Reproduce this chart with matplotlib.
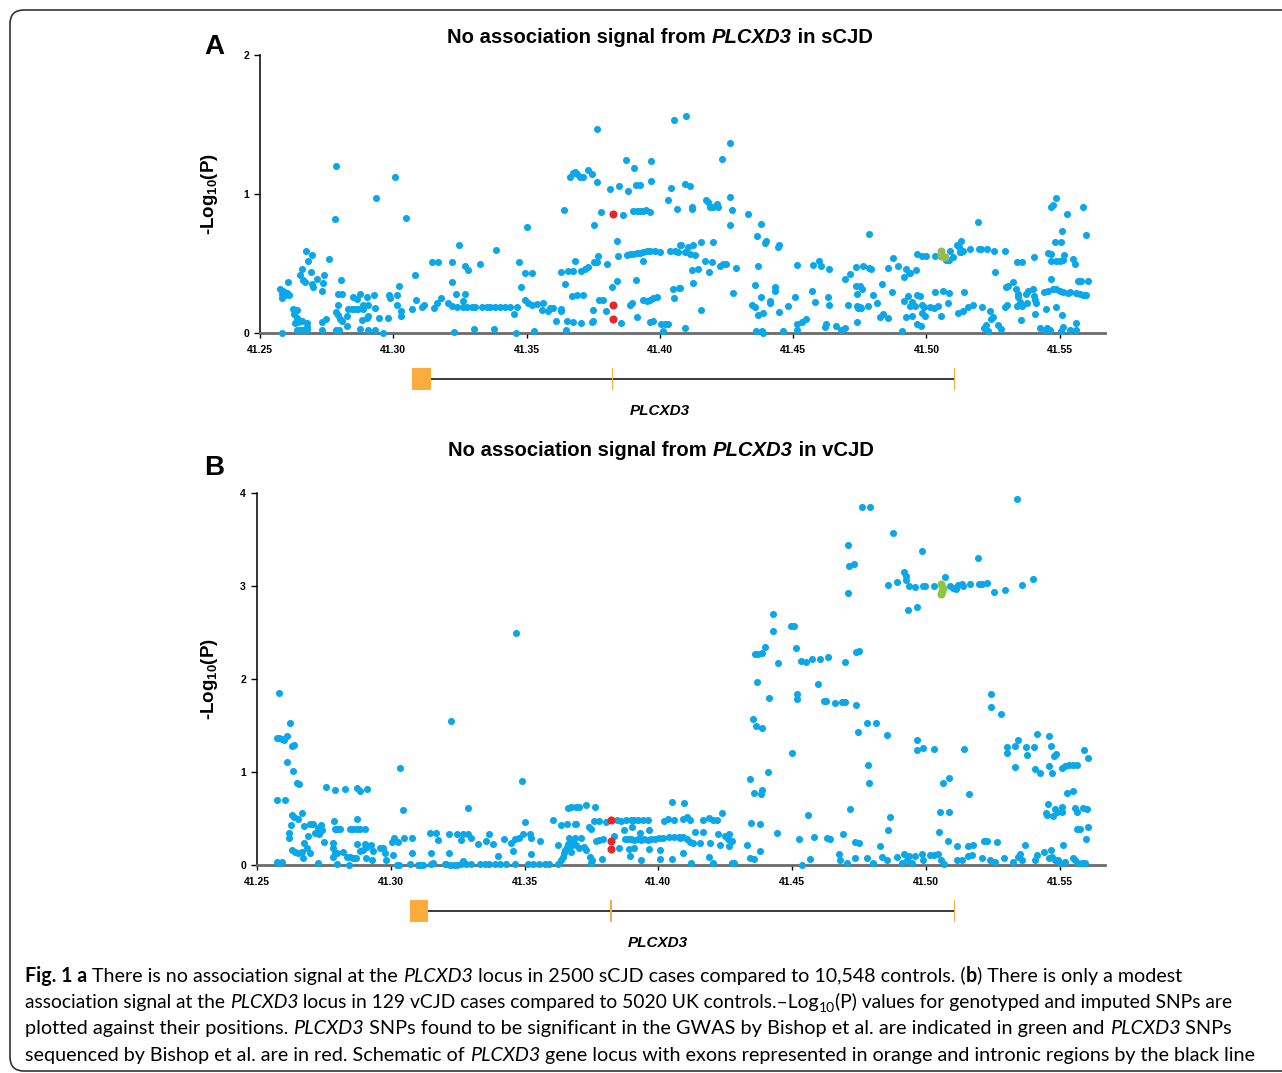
"""
Fig. 1 - no association signal from PLCXD3 in sCJD / vCJD
positions in Mb on chr, values are -log10(P) read from the published figure
"""
import matplotlib.pyplot as plt
from matplotlib.patches import FancyBboxPatch, Rectangle
from matplotlib.transforms import IdentityTransform

plt.rcParams['mathtext.fontset'] = 'custom'
plt.rcParams['mathtext.rm'] = 'Liberation Sans:bold'
plt.rcParams['mathtext.bf'] = 'Liberation Sans:bold'

# ---------------- data ----------------
x_ticks = [41.25, 41.30, 41.35, 41.40, 41.45, 41.50, 41.55]
x_labels = ['41.25', '41.30', '41.35', '41.40', '41.45', '41.50', '41.55']

# gene model of PLCXD3 (exon start, exon end) and intron line
exon_start = [41.3072, 41.3820, 41.5104]
exon_end = [41.3141, 41.3826, 41.5108]
intron = (41.3141, 41.5106)

# panel A: sCJD, (position, -log10 P)
scjd_snps = [
    (41.2785, 1.20), (41.2783, 0.82), (41.2934, 0.97), (41.3008, 1.12), (41.3048, 0.83), (41.3248, 0.63),
    (41.2575, 0.32), (41.2581, 0.28), (41.2588, 0.30), (41.2594, 0.27), (41.2581, 0.25), (41.2600, 0.29),
    (41.2610, 0.27), (41.2606, 0.37), (41.2623, 0.17), (41.2631, 0.16), (41.2638, 0.165), (41.2628, 0.14),
    (41.2638, 0.11), (41.2631, 0.07), (41.2644, 0.08), (41.2656, 0.085), (41.2675, 0.07), (41.2638, 0.02),
    (41.2650, 0.02), (41.2663, 0.02), (41.2678, 0.02), (41.2678, 0.04), (41.2584, 0.0), (41.2673, 0.59),
    (41.2696, 0.56), (41.2681, 0.52), (41.2691, 0.44), (41.2659, 0.46), (41.2650, 0.42), (41.2660, 0.38),
    (41.2669, 0.37), (41.2694, 0.35), (41.2698, 0.33), (41.2713, 0.39), (41.2740, 0.42), (41.2738, 0.36),
    (41.2733, 0.30), (41.2760, 0.53), (41.2803, 0.38), (41.2794, 0.28), (41.2806, 0.28), (41.2791, 0.20),
    (41.2785, 0.15), (41.2794, 0.13), (41.2800, 0.10), (41.2806, 0.085), (41.2825, 0.05), (41.2785, 0.02),
    (41.2798, 0.02), (41.2731, 0.02), (41.2731, 0.08), (41.2748, 0.10), (41.2825, 0.12), (41.2831, 0.17),
    (41.2844, 0.17), (41.2856, 0.17), (41.2869, 0.17), (41.2888, 0.175), (41.2850, 0.26), (41.2863, 0.245),
    (41.2875, 0.28), (41.2888, 0.20), (41.2906, 0.20), (41.2903, 0.26), (41.2928, 0.27), (41.2931, 0.18),
    (41.2881, 0.09), (41.2900, 0.11), (41.2906, 0.12), (41.2875, 0.03), (41.2906, 0.02), (41.2931, 0.02),
    (41.2960, 0.0), (41.2948, 0.105), (41.2979, 0.11), (41.2985, 0.27), (41.2988, 0.25), (41.3013, 0.27),
    (41.3014, 0.20), (41.3023, 0.34), (41.3029, 0.155), (41.3029, 0.125), (41.3071, 0.17), (41.3081, 0.42),
    (41.3085, 0.24), (41.3108, 0.185), (41.3115, 0.20), (41.3144, 0.51), (41.3169, 0.51), (41.3153, 0.18),
    (41.3163, 0.215), (41.3178, 0.25), (41.3206, 0.215), (41.3219, 0.195), (41.3238, 0.185), (41.3263, 0.185),
    (41.3219, 0.51), (41.3219, 0.37), (41.3229, 0.01), (41.3234, 0.28), (41.3269, 0.48), (41.3281, 0.45),
    (41.3269, 0.28),
    (41.3766, 1.47), (41.4054, 1.53), (41.3873, 1.245), (41.3966, 1.24), (41.3904, 1.19), (41.3663, 1.12),
    (41.3673, 1.15), (41.3681, 1.155), (41.3690, 1.145), (41.3700, 1.125), (41.3710, 1.125), (41.3731, 1.175),
    (41.3744, 1.145), (41.3763, 1.085), (41.3813, 1.035), (41.3848, 1.06), (41.3881, 1.025), (41.3910, 1.065),
    (41.3925, 1.065), (41.3965, 1.09), (41.4040, 1.045), (41.4029, 0.96), (41.4063, 0.89), (41.3639, 0.885),
    (41.3781, 0.87), (41.3863, 0.85), (41.3900, 0.875), (41.3913, 0.875), (41.3925, 0.88), (41.3938, 0.88),
    (41.3948, 0.885), (41.3963, 0.87), (41.3501, 0.76), (41.3753, 0.78), (41.3840, 0.665), (41.3385, 0.60),
    (41.3844, 0.556), (41.3875, 0.563), (41.3888, 0.568), (41.3900, 0.568), (41.3913, 0.573), (41.3925, 0.576),
    (41.3938, 0.58), (41.3950, 0.588), (41.3963, 0.592), (41.3981, 0.592), (41.4000, 0.585), (41.4038, 0.588),
    (41.4075, 0.63), (41.3769, 0.556), (41.3753, 0.508), (41.3765, 0.508), (41.3800, 0.496), (41.3935, 0.52),
    (41.3681, 0.52), (41.3656, 0.448), (41.3675, 0.448), (41.3706, 0.448), (41.3719, 0.46), (41.3731, 0.472),
    (41.3628, 0.44), (41.3645, 0.35), (41.3326, 0.50), (41.3470, 0.51), (41.3494, 0.43), (41.3521, 0.43),
    (41.3480, 0.33), (41.3275, 0.185), (41.3294, 0.185), (41.3306, 0.19), (41.3331, 0.185), (41.3350, 0.185),
    (41.3363, 0.19), (41.3381, 0.185), (41.3400, 0.19), (41.3419, 0.185), (41.3438, 0.185), (41.3463, 0.19),
    (41.3263, 0.23), (41.3453, 0.137), (41.3495, 0.24), (41.3506, 0.216), (41.3519, 0.204), (41.3538, 0.209),
    (41.3560, 0.216), (41.3558, 0.165), (41.3581, 0.16), (41.3588, 0.18), (41.3600, 0.18), (41.3629, 0.173),
    (41.3629, 0.156), (41.3609, 0.084), (41.3648, 0.024), (41.3650, 0.089), (41.3675, 0.077), (41.3704, 0.07),
    (41.3744, 0.077), (41.3750, 0.089), (41.3750, 0.168), (41.3669, 0.264), (41.3688, 0.271), (41.3713, 0.271),
    (41.3773, 0.237), (41.3788, 0.237), (41.3798, 0.156), (41.3819, 0.33), (41.3840, 0.374), (41.3855, 0.072),
    (41.3888, 0.204), (41.3894, 0.216), (41.3909, 0.384), (41.3913, 0.118), (41.3938, 0.237), (41.3950, 0.233),
    (41.3963, 0.24), (41.3975, 0.25), (41.3988, 0.257), (41.3963, 0.082), (41.3973, 0.084), (41.4006, 0.065),
    (41.4019, 0.065), (41.4031, 0.065), (41.4013, 0.017), (41.4050, 0.317), (41.4054, 0.25), (41.4075, 0.324),
    (41.3304, 0.026), (41.3376, 0.026), (41.3460, 0.0), (41.3528, 0.017),
    (41.4098, 1.56), (41.4263, 1.37), (41.4235, 1.25), (41.4094, 1.07), (41.4113, 1.06), (41.4264, 0.98),
    (41.4173, 0.96), (41.4181, 0.94), (41.4188, 0.91), (41.4200, 0.91), (41.4213, 0.93), (41.4219, 0.91),
    (41.4119, 0.91), (41.4119, 0.89), (41.4271, 0.885), (41.4331, 0.856), (41.4263, 0.777), (41.4381, 0.784),
    (41.4363, 0.70), (41.4394, 0.645), (41.4400, 0.664), (41.4444, 0.616), (41.4448, 0.635), (41.4785, 0.71),
    (41.4056, 0.588), (41.4069, 0.58), (41.4081, 0.636), (41.4094, 0.58), (41.4106, 0.616), (41.4113, 0.568),
    (41.4125, 0.636), (41.4154, 0.652), (41.4198, 0.652), (41.4131, 0.56), (41.4169, 0.516), (41.4194, 0.508),
    (41.4225, 0.48), (41.4238, 0.496), (41.4250, 0.50), (41.4284, 0.468), (41.4369, 0.48), (41.4119, 0.453),
    (41.4144, 0.458), (41.4185, 0.436), (41.4124, 0.357), (41.4275, 0.288), (41.4073, 0.324), (41.4156, 0.165),
    (41.4095, 0.036), (41.4356, 0.345), (41.4344, 0.204), (41.4356, 0.185), (41.4369, 0.132), (41.4388, 0.141),
    (41.4381, 0.261), (41.4413, 0.233), (41.4415, 0.216), (41.4431, 0.333), (41.4431, 0.30), (41.4448, 0.151),
    (41.4360, 0.017), (41.4385, 0.017), (41.4388, 0.0), (41.4463, 0.017), (41.4481, 0.197), (41.4506, 0.257),
    (41.4513, 0.49), (41.4516, 0.065), (41.4516, 0.024), (41.4535, 0.082), (41.4550, 0.10), (41.4569, 0.30),
    (41.4581, 0.225), (41.4573, 0.487), (41.4598, 0.516), (41.4604, 0.484), (41.4633, 0.463), (41.4629, 0.259),
    (41.4633, 0.20), (41.4619, 0.046), (41.4625, 0.065), (41.4660, 0.053), (41.4681, 0.024), (41.4696, 0.034),
    (41.4696, 0.386), (41.4713, 0.424), (41.4705, 0.20), (41.4735, 0.477), (41.4763, 0.48), (41.4785, 0.465),
    (41.4793, 0.46), (41.4735, 0.336), (41.4750, 0.336), (41.4758, 0.317), (41.4738, 0.28), (41.4738, 0.192),
    (41.4744, 0.18), (41.4750, 0.185), (41.4756, 0.18), (41.4740, 0.082), (41.4800, 0.271), (41.4781, 0.192),
    (41.4815, 0.216), (41.4835, 0.353), (41.4825, 0.113), (41.4838, 0.137), (41.4856, 0.468), (41.4856, 0.106),
    (41.5194, 0.80), (41.5485, 0.969), (41.5469, 0.904), (41.5475, 0.923), (41.5588, 0.91), (41.5529, 0.854),
    (41.5510, 0.736), (41.5600, 0.703), (41.5481, 0.652), (41.5504, 0.652), (41.5129, 0.664), (41.5113, 0.636),
    (41.5123, 0.616), (41.5131, 0.58), (41.5138, 0.592), (41.5125, 0.58), (41.5165, 0.604), (41.5198, 0.604),
    (41.5206, 0.604), (41.5228, 0.604), (41.5254, 0.592), (41.5294, 0.588), (41.5090, 0.588), (41.5100, 0.544),
    (41.4963, 0.566), (41.4985, 0.556), (41.4998, 0.556), (41.5031, 0.556), (41.5075, 0.525), (41.5085, 0.525),
    (41.4876, 0.54), (41.4894, 0.484), (41.4925, 0.46), (41.4935, 0.432), (41.4940, 0.434), (41.4960, 0.453),
    (41.4915, 0.40), (41.4871, 0.293), (41.5258, 0.436), (41.5338, 0.513), (41.5360, 0.508), (41.5403, 0.544),
    (41.5456, 0.573), (41.5469, 0.568), (41.5469, 0.52), (41.5485, 0.52), (41.5500, 0.52), (41.5513, 0.525),
    (41.5516, 0.564), (41.5550, 0.532), (41.5556, 0.496), (41.5469, 0.386), (41.5569, 0.372), (41.5579, 0.372),
    (41.5605, 0.376), (41.4915, 0.228), (41.4931, 0.264), (41.4946, 0.225), (41.4966, 0.271), (41.4975, 0.269),
    (41.4940, 0.192), (41.4956, 0.192), (41.4925, 0.113), (41.4946, 0.12), (41.4965, 0.065), (41.4981, 0.053),
    (41.4908, 0.017), (41.4985, 0.20), (41.4991, 0.185), (41.4984, 0.144), (41.4996, 0.12), (41.5013, 0.185),
    (41.5029, 0.18), (41.5044, 0.197), (41.5031, 0.297), (41.5063, 0.302), (41.5084, 0.285), (41.5056, 0.125),
    (41.5081, 0.216), (41.5119, 0.144), (41.5138, 0.156), (41.5156, 0.185), (41.5173, 0.199), (41.5140, 0.295),
    (41.5209, 0.187), (41.5238, 0.16), (41.5244, 0.10), (41.5248, 0.113), (41.5223, 0.06), (41.5215, 0.034),
    (41.5231, 0.012), (41.5269, 0.06), (41.5281, 0.029), (41.5294, 0.185), (41.5303, 0.204), (41.5300, 0.333),
    (41.5306, 0.34), (41.5323, 0.365), (41.5335, 0.317), (41.5344, 0.28), (41.5344, 0.257), (41.5350, 0.225),
    (41.5338, 0.192), (41.5356, 0.094), (41.5360, 0.197), (41.5375, 0.28), (41.5381, 0.30), (41.5378, 0.216),
    (41.5400, 0.317), (41.5403, 0.269), (41.5408, 0.237), (41.5413, 0.213), (41.5409, 0.137), (41.5440, 0.297),
    (41.5456, 0.305), (41.5475, 0.314), (41.5488, 0.317), (41.5500, 0.30), (41.5513, 0.297), (41.5531, 0.285),
    (41.5538, 0.297), (41.5450, 0.173), (41.5488, 0.185), (41.5510, 0.132), (41.5563, 0.285), (41.5575, 0.28),
    (41.5588, 0.276), (41.5598, 0.271), (41.5425, 0.034), (41.5446, 0.022), (41.5454, 0.034), (41.5463, 0.022),
    (41.5506, 0.017), (41.5513, 0.041), (41.5540, 0.024), (41.5560, 0.022), (41.5563, 0.072),
]
scjd_sequenced = [(41.3826, 0.856), (41.3826, 0.204), (41.3826, 0.10)]
scjd_gwas = [(41.5054, 0.592), (41.5056, 0.556), (41.5069, 0.55)]

# panel B: vCJD
vcjd_snps = [
    (41.2582, 1.85), (41.2573, 1.368), (41.2583, 1.368), (41.2592, 1.357), (41.2602, 1.34), (41.2611, 1.382),
    (41.2622, 1.53), (41.2632, 1.279), (41.2639, 1.293), (41.2611, 1.107), (41.2633, 1.014), (41.2648, 0.882),
    (41.2658, 0.871), (41.2575, 0.696), (41.2606, 0.696), (41.2573, 0.036), (41.2583, 0.018), (41.2592, 0.036),
    (41.2629, 0.543), (41.2639, 0.518), (41.2654, 0.50), (41.2667, 0.554), (41.2626, 0.429), (41.2621, 0.339),
    (41.2620, 0.293), (41.2629, 0.161), (41.2642, 0.143), (41.2654, 0.132), (41.2667, 0.143), (41.2671, 0.071),
    (41.2676, 0.232), (41.2686, 0.179), (41.2698, 0.125), (41.2676, 0.421), (41.2698, 0.436), (41.2710, 0.436),
    (41.2692, 0.311), (41.2717, 0.346), (41.2729, 0.393), (41.2738, 0.429), (41.2742, 0.375), (41.2733, 0.332),
    (41.2729, 0.018), (41.2750, 0.243), (41.2758, 0.839), (41.2791, 0.811), (41.2829, 0.818), (41.2872, 0.832),
    (41.2885, 0.796), (41.2912, 0.818), (41.2789, 0.475), (41.2791, 0.382), (41.2800, 0.382), (41.2810, 0.382),
    (41.2785, 0.232), (41.2783, 0.179), (41.2791, 0.132), (41.2800, 0.125), (41.2785, 0.089), (41.2800, 0.007),
    (41.2822, 0.143), (41.2835, 0.089), (41.2847, 0.089), (41.2860, 0.071), (41.2870, 0.079), (41.2845, 0.0),
    (41.2847, 0.382), (41.2860, 0.382), (41.2872, 0.382), (41.2885, 0.382), (41.2903, 0.382), (41.2872, 0.50),
    (41.2875, 0.221), (41.2885, 0.15), (41.2897, 0.161), (41.2910, 0.196), (41.2903, 0.221), (41.2907, 0.079),
    (41.2928, 0.214), (41.2935, 0.15), (41.2931, 0.054), (41.2959, 0.186), (41.2972, 0.179), (41.2978, 0.125),
    (41.2984, 0.054), (41.3003, 0.25), (41.3013, 0.286), (41.3028, 0.25), (41.3034, 1.046), (41.3047, 0.589),
    (41.3049, 0.293), (41.3009, 0.107), (41.3022, 0.0), (41.3030, 0.0), (41.3071, 0.007), (41.3103, 0.0),
    (41.3111, 0.0), (41.3121, 0.0), (41.3152, 0.007), (41.3159, 0.018), (41.3202, 0.007), (41.3208, 0.007),
    (41.3221, 0.0), (41.3236, 0.0), (41.3248, 0.0), (41.3081, 0.293), (41.3080, 0.125), (41.3146, 0.339),
    (41.3169, 0.339), (41.3177, 0.268), (41.3152, 0.125), (41.3218, 0.332), (41.3218, 0.125), (41.3246, 0.329),
    (41.3271, 0.329), (41.3289, 0.329), (41.3261, 0.268), (41.3227, 1.546), (41.3287, 0.614), (41.3271, 0.043),
    (41.3469, 2.50), (41.3491, 0.904), (41.3301, 0.286), (41.3326, 0.221), (41.3357, 0.261), (41.3369, 0.332),
    (41.3382, 0.221), (41.3400, 0.096), (41.3422, 0.279), (41.3450, 0.239), (41.3463, 0.275), (41.3479, 0.286),
    (41.3494, 0.332), (41.3456, 0.15), (41.3500, 0.464), (41.3519, 0.329), (41.3525, 0.293), (41.3525, 0.118),
    (41.3559, 0.257), (41.3263, 0.01), (41.3282, 0.01), (41.3301, 0.01), (41.3332, 0.01), (41.3351, 0.01),
    (41.3369, 0.01), (41.3388, 0.01), (41.3407, 0.01), (41.3432, 0.01), (41.3463, 0.01), (41.3512, 0.01),
    (41.3531, 0.01), (41.3556, 0.01), (41.3575, 0.01), (41.3591, 0.01), (41.3625, 0.01), (41.3606, 0.482),
    (41.3625, 0.214), (41.3637, 0.429), (41.3658, 0.446), (41.3687, 0.446), (41.3693, 0.446), (41.3662, 0.614),
    (41.3674, 0.621), (41.3693, 0.625), (41.3705, 0.625), (41.3730, 0.65), (41.3765, 0.621), (41.3643, 0.089),
    (41.3649, 0.125), (41.3653, 0.161), (41.3658, 0.196), (41.3663, 0.225), (41.3668, 0.186), (41.3672, 0.143),
    (41.3678, 0.214), (41.3681, 0.25), (41.3637, 0.054), (41.3668, 0.293), (41.3687, 0.293), (41.3712, 0.293),
    (41.3693, 0.214), (41.3705, 0.186), (41.3724, 0.196), (41.3730, 0.161), (41.3740, 0.411), (41.3749, 0.382),
    (41.3743, 0.089), (41.3753, 0.054), (41.3749, 0.025), (41.3761, 0.475), (41.3780, 0.475), (41.3768, 0.261),
    (41.3780, 0.268), (41.3793, 0.275), (41.3789, 0.061), (41.3805, 0.464), (41.3845, 0.489), (41.3836, 0.311),
    (41.3852, 0.186), (41.3861, 0.475), (41.3880, 0.482), (41.3898, 0.489), (41.3911, 0.489), (41.3923, 0.489),
    (41.3942, 0.489), (41.3961, 0.482), (41.3871, 0.375), (41.3902, 0.411), (41.3933, 0.346), (41.3964, 0.375),
    (41.3874, 0.275), (41.3886, 0.275), (41.3898, 0.275), (41.3911, 0.268), (41.3923, 0.275), (41.3936, 0.268),
    (41.3948, 0.275), (41.3961, 0.268), (41.3973, 0.275), (41.3986, 0.282), (41.4002, 0.286), (41.4019, 0.286),
    (41.3890, 0.168), (41.3896, 0.096), (41.3911, 0.186), (41.3936, 0.054), (41.3964, 0.168), (41.4007, 0.161),
    (41.4023, 0.475), (41.4035, 0.50), (41.4060, 0.482), (41.4008, 0.068), (41.4052, 0.068), (41.4052, 0.679),
    (41.4042, 0.304), (41.4060, 0.296), (41.4079, 0.304),
    (41.4763, 3.854), (41.4793, 3.854), (41.4709, 3.443), (41.4714, 3.21), (41.4733, 3.239), (41.4709, 2.921),
    (41.4859, 3.007), (41.4430, 2.704), (41.4430, 2.511), (41.4495, 2.575), (41.4507, 2.575), (41.4515, 2.336),
    (41.4362, 2.268), (41.4374, 2.268), (41.4387, 2.275), (41.4399, 2.339), (41.4448, 2.168), (41.4369, 1.964),
    (41.4413, 1.796), (41.4532, 2.196), (41.4551, 2.186), (41.4573, 2.211), (41.4605, 2.218), (41.4633, 2.232),
    (41.4698, 2.182), (41.4738, 2.286), (41.4750, 2.304), (41.4517, 1.839), (41.4517, 1.782), (41.4598, 1.946),
    (41.4620, 1.768), (41.4626, 1.768), (41.4661, 1.739), (41.4688, 1.75), (41.4698, 1.75), (41.4739, 1.721),
    (41.4353, 1.571), (41.4366, 1.50), (41.4387, 1.468), (41.4781, 1.529), (41.4815, 1.529), (41.4748, 1.425),
    (41.4855, 1.393), (41.4499, 1.204), (41.4785, 1.079), (41.4786, 0.882), (41.4412, 1.004), (41.4344, 0.925),
    (41.4359, 0.775), (41.4383, 0.768), (41.4388, 0.811), (41.4717, 0.60), (41.4560, 0.536), (41.4348, 0.454),
    (41.4380, 0.446), (41.4445, 0.346), (41.4526, 0.279), (41.4582, 0.304), (41.4629, 0.293), (41.4642, 0.282),
    (41.4692, 0.332), (41.4735, 0.25), (41.4751, 0.232), (41.4829, 0.207), (41.4866, 0.518), (41.4860, 0.375),
    (41.4677, 0.118), (41.4679, 0.054), (41.4704, 0.025), (41.4737, 0.071), (41.4781, 0.071), (41.4801, 0.025),
    (41.4836, 0.089), (41.4856, 0.054), (41.4331, 0.214), (41.4343, 0.079), (41.4358, 0.061), (41.4380, 0.15),
    (41.4536, 0.0), (41.4567, 0.061), (41.4098, 0.668), (41.4094, 0.50), (41.4106, 0.511), (41.4119, 0.482),
    (41.4169, 0.482), (41.4188, 0.507), (41.4206, 0.489), (41.4219, 0.489), (41.4237, 0.561), (41.4082, 0.286),
    (41.4094, 0.304), (41.4107, 0.275), (41.4138, 0.35), (41.4169, 0.357), (41.4119, 0.25), (41.4131, 0.232),
    (41.4156, 0.232), (41.4194, 0.232), (41.4225, 0.332), (41.4250, 0.311), (41.4266, 0.332), (41.4231, 0.214),
    (41.4262, 0.275), (41.4266, 0.207), (41.4275, 0.261), (41.4094, 0.132), (41.4123, 0.018), (41.4188, 0.089),
    (41.4204, 0.018), (41.4275, 0.025), (41.4284, 0.018),
    (41.5340, 3.936), (41.4878, 3.575), (41.4985, 3.379), (41.5194, 3.304), (41.4917, 3.15), (41.4927, 3.107),
    (41.4927, 3.064), (41.4892, 3.046), (41.4939, 2.996), (41.4960, 2.989), (41.4989, 3.004), (41.4998, 3.004),
    (41.5029, 3.004), (41.5072, 3.10), (41.5091, 3.0), (41.5101, 2.982), (41.5113, 2.964), (41.5122, 3.011),
    (41.5134, 3.025), (41.5141, 3.0), (41.5166, 3.018), (41.5198, 3.025), (41.5209, 3.025), (41.5228, 3.032),
    (41.5256, 2.936), (41.5295, 2.954), (41.5361, 3.007), (41.5402, 3.071), (41.4932, 2.746), (41.4966, 2.775),
    (41.5245, 1.836), (41.5245, 1.696), (41.5280, 1.621), (41.4969, 1.339), (41.4969, 1.239), (41.4991, 1.261),
    (41.5031, 1.25), (41.5142, 1.246), (41.5303, 1.268), (41.5303, 1.204), (41.5334, 1.275), (41.5346, 1.339),
    (41.5375, 1.268), (41.5377, 1.186), (41.5405, 1.268), (41.5417, 1.404), (41.5459, 1.386), (41.5334, 1.054),
    (41.5408, 1.036), (41.5427, 0.989), (41.5469, 1.275), (41.5462, 1.064), (41.5471, 0.993), (41.5479, 1.175),
    (41.5486, 1.196), (41.5510, 1.046), (41.5520, 1.064), (41.5537, 1.079), (41.5552, 1.079), (41.5566, 1.079),
    (41.5590, 1.232), (41.5605, 1.15), (41.5063, 0.886), (41.5085, 0.939), (41.5161, 0.764), (41.5529, 0.779),
    (41.5552, 0.796), (41.5054, 0.571), (41.5085, 0.571), (41.5050, 0.35), (41.5458, 0.661), (41.5450, 0.554),
    (41.5452, 0.543), (41.5474, 0.525), (41.5483, 0.607), (41.5489, 0.571), (41.5508, 0.625), (41.5508, 0.571),
    (41.5558, 0.618), (41.5564, 0.571), (41.5589, 0.618), (41.5601, 0.607), (41.5564, 0.386), (41.5576, 0.386),
    (41.5605, 0.411), (41.5598, 0.279), (41.5082, 0.261), (41.5118, 0.204), (41.5159, 0.204), (41.5178, 0.214),
    (41.5218, 0.261), (41.5228, 0.257), (41.5268, 0.243), (41.5370, 0.211), (41.5512, 0.218), (41.5442, 0.143),
    (41.5467, 0.161), (41.4892, 0.082), (41.4910, 0.018), (41.4919, 0.118), (41.4929, 0.054), (41.4939, 0.096),
    (41.4950, 0.025), (41.4960, 0.096), (41.4985, 0.118), (41.4990, 0.054), (41.5016, 0.107), (41.5031, 0.107),
    (41.5047, 0.118), (41.5056, 0.054), (41.5070, 0.011), (41.5118, 0.054), (41.5134, 0.054), (41.5159, 0.096),
    (41.5171, 0.107), (41.5209, 0.071), (41.5240, 0.054), (41.5259, 0.036), (41.5293, 0.071), (41.5325, 0.036),
    (41.5346, 0.089), (41.5352, 0.118), (41.5359, 0.054), (41.5410, 0.054), (41.5415, 0.107), (41.5460, 0.071),
    (41.5471, 0.089), (41.5483, 0.054), (41.5496, 0.054), (41.5502, 0.018), (41.5520, 0.036), (41.5549, 0.079),
    (41.5558, 0.054), (41.5570, 0.025), (41.5583, 0.018), (41.5595, 0.018),
]
vcjd_sequenced = [(41.3824, 0.482), (41.3824, 0.261), (41.3824, 0.175)]
vcjd_gwas = [(41.5057, 3.018), (41.5063, 2.982), (41.5060, 2.946), (41.5056, 2.918)]

W, H = 1282, 1073
BLUE = '#0aa8e8'
RED = '#e8262a'
ORANGE = '#fbac3c'
AX_FONT = 'Liberation Sans'
CAP_FONT = 'Lato'


def px(x, y):
    # image pixel (from top-left) -> display coords
    return x, H - y


def measure(fig, s, props):
    r = fig.canvas.get_renderer()
    t1 = fig.text(0, 0, s + '|', transform=IdentityTransform(), **props)
    t2 = fig.text(0, 0, '|', transform=IdentityTransform(), **props)
    w = t1.get_window_extent(r).width - t2.get_window_extent(r).width
    t1.remove()
    t2.remove()
    return w


def build(parts, size, family):
    out = []
    for s, st in parts:
        props = dict(fontsize=size * st.get('scale', 1), family=family,
                     fontweight=st.get('weight', 'normal'), fontstyle=st.get('style', 'normal'))
        out.append((s, props, st.get('dy', 0) * size * 100 / 72))
    return out


def runs_width(fig, parts, size, family):
    return sum(measure(fig, s, p) for s, p, _ in build(parts, size, family))


def draw_runs(fig, parts, x, y, size, family, center=False):
    items = build(parts, size, family)
    widths = [measure(fig, s, p) for s, p, _ in items]
    cx, cy = px(x, y)
    if center:
        cx -= sum(widths) / 2
    for (s, p, dy), w in zip(items, widths):
        fig.text(cx, cy + dy, s, transform=IdentityTransform(), va='baseline', ha='left', **p)
        cx += w


def fit_size(fig, parts, width, family):
    return 10 * width / runs_width(fig, parts, 10, family)


fig = plt.figure(figsize=(W / 100, H / 100), dpi=100)

# rounded frame around the figure
frame = FancyBboxPatch((10, 2), 1320, 1061, boxstyle='round,pad=0,rounding_size=14',
                       transform=IdentityTransform(), fill=False, edgecolor='#333333', linewidth=1.2)
fig.add_artist(frame)


def panel(left, top, right, bottom, ymax, snps, seq, gwas, green, label_x):
    ax = fig.add_axes([left / W, 1 - bottom / H, (right - left) / W, (bottom - top) / H])
    ax.scatter([p[0] for p in snps], [p[1] for p in snps], s=26, color=BLUE, linewidths=0,
               clip_on=False, zorder=3)
    ax.scatter([p[0] for p in gwas], [p[1] for p in gwas], s=34, color=green, linewidths=0,
               clip_on=False, zorder=4)
    ax.scatter([p[0] for p in seq], [p[1] for p in seq], s=34, color=RED, linewidths=0,
               clip_on=False, zorder=4)
    ax.set_xlim(41.25, 41.567)
    ax.set_ylim(0, ymax)
    ax.set_xticks(x_ticks)
    ax.set_xticklabels(x_labels)
    ax.set_yticks(range(ymax + 1))
    for sp in ('top', 'right'):
        ax.spines[sp].set_visible(False)
    ax.spines['bottom'].set_color('#6b6b6b')
    ax.spines['bottom'].set_linewidth(2.0)
    ax.spines['left'].set_color('black')
    ax.spines['left'].set_linewidth(1.1)
    ax.tick_params(axis='x', direction='out', length=3.5, width=1, pad=5)
    ax.tick_params(axis='y', direction='out', length=4, width=1, pad=4)
    for t in ax.get_xticklabels() + ax.get_yticklabels():
        t.set_fontfamily(AX_FONT)
        t.set_fontweight('bold')
        t.set_fontsize(7.5)
    ax.set_ylabel(r'-Log$_{\mathbf{10}}$(P)', fontfamily=AX_FONT, fontweight='bold', fontsize=13.5)
    ax.yaxis.set_label_coords(label_x, 0.5)
    return ax


def gene(left, right, top, bottom):
    g = fig.add_axes([left / W, 1 - bottom / H, (right - left) / W, (bottom - top) / H])
    g.set_xlim(41.25, 41.567)
    g.set_ylim(0, 1)
    g.axis('off')
    g.plot(intron, [0.5, 0.5], color='#3a3a3a', lw=1.4, solid_capstyle='butt', zorder=1)
    for s, e in zip(exon_start, exon_end):
        g.add_patch(Rectangle((s, 0.08), e - s, 0.84, facecolor=ORANGE, edgecolor='none', zorder=2))
    return g


panel(260, 55, 1105, 333, 2, scjd_snps, scjd_sequenced, scjd_gwas, '#96bb55', -0.047)
gene(260, 1105, 366, 392)
panel(257, 493, 1105, 865, 4, vcjd_snps, vcjd_sequenced, vcjd_gwas, '#8cc63f', -0.044)
gene(257, 1105, 898, 924)

# panel letters and titles
fig.text(*px(214, 54), 'A', transform=IdentityTransform(), fontfamily=AX_FONT, fontweight='bold',
         fontsize=20, ha='center', va='baseline')
fig.text(*px(214, 475), 'B', transform=IdentityTransform(), fontfamily=AX_FONT, fontweight='bold',
         fontsize=20, ha='center', va='baseline')

B = {'weight': 'bold'}
BI = {'weight': 'bold', 'style': 'italic'}
title_a = [('No association signal from ', B), ('PLCXD3', BI), (' in sCJD', B)]
title_b = [('No association signal from ', B), ('PLCXD3', BI), (' in vCJD', B)]
ts = fit_size(fig, title_a, 425, AX_FONT)
draw_runs(fig, title_a, 660, 43, ts, AX_FONT, center=True)
draw_runs(fig, title_b, 661, 456, ts, AX_FONT, center=True)

draw_runs(fig, [('PLCXD3', BI)], 660, 415, 11, AX_FONT, center=True)
draw_runs(fig, [('PLCXD3', BI)], 658, 947, 11, AX_FONT, center=True)

# caption
R = {}
I = {'style': 'italic'}
SUB = {'scale': 0.72, 'dy': -0.22}
cap = [
    [('Fig. 1 a', B), (' There is no association signal at the ', R), ('PLCXD3', I),
     (' locus in 2500 sCJD cases compared to 10,548 controls. (', R), ('b', B), (') There is only a modest', R)],
    [('association signal at the ', R), ('PLCXD3', I),
     (' locus in 129 vCJD cases compared to 5020 UK controls.\u2013Log', R), ('10', SUB),
     ('(P) values for genotyped and imputed SNPs are', R)],
    [('plotted against their positions. ', R), ('PLCXD3', I),
     (' SNPs found to be significant in the GWAS by Bishop et al. are indicated in green and ', R),
     ('PLCXD3', I), (' SNPs', R)],
    [('sequenced by Bishop et al. are in red. Schematic of ', R), ('PLCXD3', I),
     (' gene locus with exons represented in orange and intronic regions by the black line', R)],
]
cap_widths = [1158, 1208, 1211, 1233]
for line, wd, yb in zip(cap, cap_widths, [982, 1008, 1034, 1061]):
    cs = fit_size(fig, line, wd, CAP_FONT)
    draw_runs(fig, line, 25, yb, cs, CAP_FONT)

fig.savefig('out.png', dpi=100)
